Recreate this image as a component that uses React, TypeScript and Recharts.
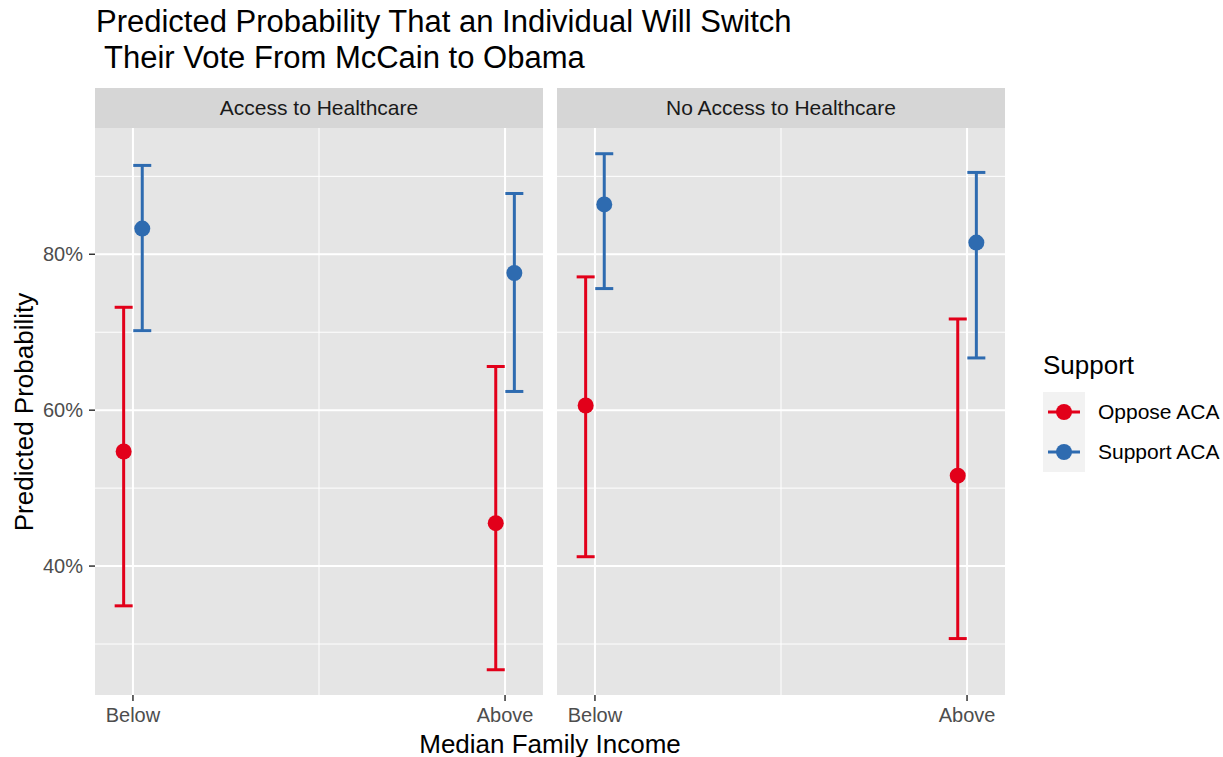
import React from "react";
import { ComposedChart, Scatter, ErrorBar, XAxis, YAxis, CartesianGrid, ReferenceLine } from "recharts";

const facets = ["Access to Healthcare", "No Access to Healthcare"];
const incomeLevels = ["Below", "Above"];
const seriesNames = ["Oppose ACA", "Support ACA"];
const seriesColors = ["#E2001A", "#2E6BB0"];

// [facet][income level]
const opposeFit = [[0.547, 0.455], [0.606, 0.516]];
const opposeLow = [[0.349, 0.267], [0.412, 0.307]];
const opposeHigh = [[0.732, 0.656], [0.771, 0.717]];
const supportFit = [[0.833, 0.776], [0.864, 0.815]];
const supportLow = [[0.702, 0.624], [0.756, 0.667]];
const supportHigh = [[0.914, 0.878], [0.929, 0.905]];

const yTicks = [0.4, 0.6, 0.8];
const yMinor = [0.3, 0.5, 0.7, 0.9];
const xTicks = [0, 1];
const xMinor = [0.5];

const FONT = '"Liberation Sans", Arial, Helvetica, sans-serif';
const DODGE = 0.025;
const Y_DOMAIN = [0.2346, 0.962];
const X_DOMAIN = [-0.102, 1.102];

function buildRows(fit: number[][], low: number[][], high: number[][], facet: number, offset: number) {
  return incomeLevels.map((_, i) => ({
    x: i + offset,
    y: fit[facet][i],
    err: [fit[facet][i] - low[facet][i], high[facet][i] - fit[facet][i]],
  }));
}

const dot = (color: string) => (props: any) => (
  <circle cx={props.cx} cy={props.cy} r={8} fill={color} />
);

function Panel({ facet, showY, left, width }: { facet: number; showY: boolean; left: number; width: number }) {
  const oppose = buildRows(opposeFit, opposeLow, opposeHigh, facet, -DODGE);
  const support = buildRows(supportFit, supportLow, supportHigh, facet, DODGE);
  const tick = { fill: "#4D4D4D", fontSize: 20, fontFamily: FONT };
  return (
    <div style={{ position: "absolute", left, top: 128 }}>
      <ComposedChart width={width} height={607} margin={{ top: 0, right: 0, bottom: 0, left: 0 }}>
        <CartesianGrid horizontal={false} vertical={false} fill="#E5E5E5" stroke="none" />
        {yMinor.map((v) => (
          <ReferenceLine key={"ym" + v} y={v} stroke="#FFFFFF" strokeWidth={1} />
        ))}
        {yTicks.map((v) => (
          <ReferenceLine key={"yM" + v} y={v} stroke="#FFFFFF" strokeWidth={2} />
        ))}
        {xMinor.map((v) => (
          <ReferenceLine key={"xm" + v} x={v} stroke="#FFFFFF" strokeWidth={1} />
        ))}
        {xTicks.map((v) => (
          <ReferenceLine key={"xM" + v} x={v} stroke="#FFFFFF" strokeWidth={2} />
        ))}
        <XAxis
          type="number"
          dataKey="x"
          domain={X_DOMAIN}
          allowDataOverflow
          ticks={xTicks}
          tickFormatter={(v: number) => incomeLevels[Math.round(v)]}
          axisLine={false}
          tickLine={{ stroke: "#333333", strokeWidth: 1.5 }}
          tickSize={6}
          tickMargin={7}
          tick={tick}
          height={40}
        />
        <YAxis
          type="number"
          dataKey="y"
          domain={Y_DOMAIN}
          allowDataOverflow
          ticks={yTicks}
          tickFormatter={(v: number) => `${Math.round(v * 100)}%`}
          axisLine={false}
          tickLine={{ stroke: "#333333", strokeWidth: 1.5 }}
          tickSize={6}
          tickMargin={6}
          tick={tick}
          width={showY ? 95 : 0}
          hide={!showY}
        />
        <Scatter name={seriesNames[0]} data={oppose} isAnimationActive={false} shape={dot(seriesColors[0])}>
          <ErrorBar dataKey="err" direction="y" width={9} strokeWidth={3} stroke={seriesColors[0]} isAnimationActive={false} />
        </Scatter>
        <Scatter name={seriesNames[1]} data={support} isAnimationActive={false} shape={dot(seriesColors[1])}>
          <ErrorBar dataKey="err" direction="y" width={9} strokeWidth={3} stroke={seriesColors[1]} isAnimationActive={false} />
        </Scatter>
      </ComposedChart>
    </div>
  );
}

function Strip({ label, left }: { label: string; left: number }) {
  return (
    <div
      style={{
        position: "absolute",
        left,
        top: 88,
        width: 448,
        height: 40,
        background: "#D6D6D6",
        color: "#1A1A1A",
        fontSize: 21,
        lineHeight: "40px",
        textAlign: "center",
      }}
    >
      {label}
    </div>
  );
}

export default function App() {
  return (
    <div
      style={{
        position: "absolute",
        left: 0,
        top: 0,
        width: 1223,
        height: 757,
        background: "#FFFFFF",
        fontFamily: FONT,
        overflow: "hidden",
      }}
    >
      <div style={{ position: "absolute", left: 96, top: 4, fontSize: 31, lineHeight: "36px", color: "#000", whiteSpace: "pre" }}>
        {"Predicted Probability That an Individual Will Switch\n Their Vote From McCain to Obama"}
      </div>

      <Strip label={facets[0]} left={95} />
      <Strip label={facets[1]} left={557} />
      <Panel facet={0} showY={true} left={0} width={543} />
      <Panel facet={1} showY={false} left={557} width={448} />

      <div
        style={{
          position: "absolute",
          left: 24,
          top: 412,
          transform: "translate(-50%, -50%) rotate(-90deg)",
          fontSize: 26,
          whiteSpace: "nowrap",
          color: "#000",
        }}
      >
        Predicted Probability
      </div>
      <div
        style={{
          position: "absolute",
          left: 550,
          top: 744,
          transform: "translate(-50%, -50%)",
          fontSize: 26,
          whiteSpace: "nowrap",
          color: "#000",
        }}
      >
        Median Family Income
      </div>

      <div style={{ position: "absolute", left: 1043, top: 350, fontSize: 26, lineHeight: "30px", color: "#000" }}>Support</div>
      <div style={{ position: "absolute", left: 1043, top: 392, width: 42, height: 80, background: "#F2F2F2" }} />
      {seriesNames.map((name, i) => (
        <React.Fragment key={name}>
          <svg style={{ position: "absolute", left: 1043, top: 392 + i * 40 }} width={42} height={40}>
            <line x1={5} x2={37} y1={20} y2={20} stroke={seriesColors[i]} strokeWidth={3} />
            <circle cx={21} cy={20} r={8} fill={seriesColors[i]} />
          </svg>
          <div
            style={{
              position: "absolute",
              left: 1098,
              top: 392 + i * 40,
              height: 40,
              lineHeight: "40px",
              fontSize: 21,
              color: "#000",
            }}
          >
            {name}
          </div>
        </React.Fragment>
      ))}
    </div>
  );
}
